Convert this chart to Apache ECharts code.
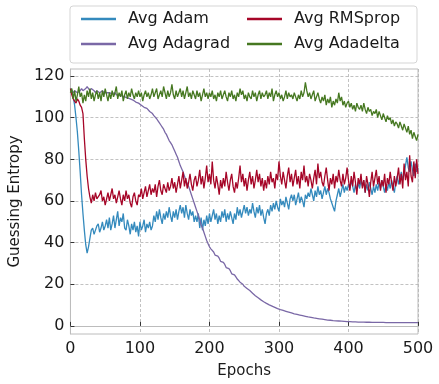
<!DOCTYPE html>
<html>
<head>
<meta charset="utf-8">
<script src="https://cdn.jsdelivr.net/npm/echarts@6/dist/echarts.min.js"></script>
<style>
html,body{margin:0;padding:0;background:#fff;}
#chart{width:439px;height:384px;}
</style>
</head>
<body>
<div id="chart"></div>
<script>
const epochs = [
  0,2,4,6,8,10,12,14,16,18,
  20,22,24,26,28,30,32,34,36,38,
  40,42,44,46,48,50,52,54,56,58,
  60,62,64,66,68,70,72,74,76,78,
  80,82,84,86,88,90,92,94,96,98,
  100,102,104,106,108,110,112,114,116,118,
  120,122,124,126,128,130,132,134,136,138,
  140,142,144,146,148,150,152,154,156,158,
  160,162,164,166,168,170,172,174,176,178,
  180,182,184,186,188,190,192,194,196,198,
  200,202,204,206,208,210,212,214,216,218,
  220,222,224,226,228,230,232,234,236,238,
  240,242,244,246,248,250,252,254,256,258,
  260,262,264,266,268,270,272,274,276,278,
  280,282,284,286,288,290,292,294,296,298,
  300,302,304,306,308,310,312,314,316,318,
  320,322,324,326,328,330,332,334,336,338,
  340,342,344,346,348,350,352,354,356,358,
  360,362,364,366,368,370,372,374,376,378,
  380,382,384,386,388,390,392,394,396,398,
  400,402,404,406,408,410,412,414,416,418,
  420,422,424,426,428,430,432,434,436,438,
  440,442,444,446,448,450,452,454,456,458,
  460,462,464,466,468,470,472,474,476,478,
  480,482,484,486,488,490,492,494,496,498,
  500
];
const adam = [
  114,113,110,106,100,93,84,74,63,54,
  46,39,35,38,42,46,47,44,46,48,
  49,45,47,50,46,48,51,47,52,46,
  49,53,47,51,55,48,52,50,54,47,
  46,51,48,44,49,46,50,45,48,43,
  50,46,48,51,45,49,47,50,46,48,
  53,50,55,51,56,52,49,54,51,55,
  52,57,53,50,55,52,56,51,55,58,
  54,57,52,58,54,51,56,53,55,50,
  53,50,54,47,52,46,51,48,53,49,
  54,50,53,56,51,54,49,53,50,55,
  52,56,50,54,51,55,52,49,54,51,
  57,53,56,52,55,58,54,57,53,56,
  54,59,55,52,57,54,58,53,56,52,
  49,54,56,53,58,55,59,56,60,57,
  55,61,58,60,57,62,59,56,61,63,
  60,63,58,61,64,59,62,60,57,63,
  61,64,62,66,63,60,65,62,67,63,
  65,61,64,67,63,66,64,61,59,57,
  55,60,63,66,62,65,68,64,67,65,
  68,66,70,67,64,68,65,69,66,70,
  67,70,64,68,65,69,66,63,67,64,
  68,65,69,66,70,67,64,68,65,69,
  66,70,67,64,69,72,68,71,74,70,
  73,77,81,76,74,79,75,72,78,74,
  76
];
const adagrad = [
  114,113,112,113,113,112,112,113,114,113,
  113,114,115,114,113,114,114,113,112,113,
  113,112,112,113,112,112,112,112,112,111.5,
  111.5,112,112,111,111,111,111,110.5,110,110,
  110,109.5,109,109,108.5,108.5,108,107.5,107,107,
  106.5,106,105.5,105,104.5,104.5,104,103,102.5,102,
  101,100.5,99.5,98.5,97.5,96.5,95.5,94.5,93,92,
  90.5,89,88,87,85.5,84,82.5,81,79,77,
  75.5,74,72,70,68.5,67,65,63,61,59,
  57,55,53,51,48.5,47,45,43,41,39.5,
  38,37,36.5,35.5,34,34,33.5,32.5,31,31,
  30.5,29.5,28,28,27.5,26.5,25,25,24.5,23.5,
  22.5,22,21,20.5,20,19,18.5,18,17.5,17,
  16.5,15.7,15,14.5,14,13.5,13,12.5,12,11.6,
  11.2,10.8,10.5,10.1,9.8,9.5,9.2,8.9,8.6,8.3,
  8,7.8,7.6,7.4,7.2,7,6.8,6.6,6.4,6.2,
  6,5.8,5.7,5.5,5.4,5.2,5.1,4.9,4.8,4.6,
  4.5,4.3,4.2,4.1,3.9,3.8,3.7,3.6,3.5,3.4,
  3.3,3.2,3.1,3,2.9,2.8,2.8,2.7,2.6,2.55,
  2.5,2.45,2.4,2.35,2.3,2.25,2.2,2.15,2.1,2.05,
  2,2,1.95,1.95,1.9,1.9,1.9,1.85,1.85,1.8,
  1.8,1.8,1.8,1.75,1.75,1.75,1.7,1.7,1.7,1.7,
  1.7,1.7,1.65,1.65,1.65,1.65,1.6,1.6,1.6,1.6,
  1.6,1.6,1.6,1.6,1.6,1.6,1.6,1.6,1.6,1.6,
  1.6,1.6,1.6,1.6,1.6,1.6,1.6,1.6,1.6,1.6,
  1.6
];
const rmsprop = [
  114,111,109,108,107,109,108,106,105,102,
  90,80,72,66,62,59,63,60,64,61,
  61,63,65,60,62,58,61,64,60,63,
  66,61,63,59,62,65,61,58,63,60,
  65,61,63,59,57,62,64,60,58,63,
  62,66,61,64,67,62,65,68,63,66,
  64,68,62,67,70,65,63,68,66,64,
  69,65,67,71,66,69,64,68,72,66,
  70,74,67,71,66,69,73,68,65,70,
  72,67,70,75,68,72,66,71,77,69,
  73,68,79,70,66,72,68,63,70,66,
  71,67,74,69,65,70,73,67,64,69,
  66,71,77,69,73,67,71,65,70,74,
  68,72,66,70,75,69,73,67,71,65,
  70,66,72,68,74,69,71,66,73,70,
  79,72,68,74,70,66,72,76,69,73,
  67,71,75,68,72,66,74,70,77,69,
  72,67,73,70,66,71,75,68,78,71,
  74,69,67,72,76,70,65,71,68,73,
  66,72,69,75,70,67,73,68,71,76,
  70,65,72,67,74,69,63,71,68,73,
  66,70,64,72,68,62,69,74,67,71,
  75,68,72,65,70,67,73,64,71,68,
  74,69,65,72,67,71,76,68,73,66,
  78,70,74,67,82,72,69,79,71,80,
  73
];
const adadelta = [
  112,114,109,113,108,111,115,110,112,107,
  111,108,113,110,114,109,112,108,111,113,
  109,112,108,113,110,114,111,108,112,109,
  113,110,112,115,109,112,110,113,108,111,
  113,109,112,110,114,111,109,112,110,113,
  110,112,108,111,113,110,112,109,111,114,
  110,112,114,109,111,113,110,115,112,109,
  113,110,112,116,111,109,113,110,112,114,
  110,113,109,112,115,110,112,109,113,111,
  109,113,110,112,108,111,114,110,112,109,
  112,110,113,109,111,108,112,110,113,109,
  111,113,110,108,112,110,113,109,111,108,
  112,110,114,111,113,109,111,108,112,110,
  109,113,110,112,108,111,113,109,112,110,
  111,113,109,112,110,114,108,111,113,110,
  112,109,111,108,110,113,109,112,110,111,
  109,112,110,108,111,109,113,110,112,117,
  113,110,112,109,111,113,108,110,112,109,
  107,110,108,111,106,109,107,110,105,108,
  106,109,107,112,108,110,106,108,105,107,
  108,105,107,104,106,103,107,105,104,106,
  103,107,104,102,105,103,104,101,103,102,
  104,100,103,101,99,102,100,98,101,99,
  100,97,99,96,98,97,95,98,96,94,
  97,95,93,96,92,94,90,93,91,89,
  92
];
const seriesNames = ['Avg Adam', 'Avg Adagrad', 'Avg RMSprop', 'Avg Adadelta'];
const seriesValues = [adam, adagrad, rmsprop, adadelta];
const colors = ['#348ABD', '#7A68A6', '#A60628', '#467821'];
const xTicks = [0, 100, 200, 300, 400, 500];
const yTicks = [0, 20, 40, 60, 80, 100, 120];
const xLabel = 'Epochs';
const yLabel = 'Guessing Entropy';

const FONT = 'DejaVu Sans';
const TXT = '#1a1a1a';
const chart = echarts.init(document.getElementById('chart'), null, {renderer: 'canvas'});

const legendPos = [
  {left: 81, top: 11},
  {left: 81, top: 36},
  {left: 247, top: 11},
  {left: 247, top: 36}
];

const option = {
  animation: false,
  backgroundColor: '#ffffff',
  grid: {
    left: 68, top: 69, width: 350, height: 268,
    show: true, borderColor: '#bcbcbc', borderWidth: 1, backgroundColor: 'transparent',
    containLabel: false
  },
  graphic: [{
    type: 'rect', left: 69.5, top: 5.5, z: -1,
    shape: {width: 347, height: 57, r: 3},
    style: {fill: '#ffffff', stroke: '#d5d5d5', lineWidth: 1}
  }],
  legend: seriesNames.map((n, i) => ({
    data: [n], left: legendPos[i].left, top: legendPos[i].top,
    icon: 'rect', itemWidth: 35, itemHeight: 2.5, itemGap: 0, padding: 0,
    selectedMode: false,
    textStyle: {fontFamily: FONT, fontSize: 16, color: TXT, padding: [0, 0, 0, 7]}
  })),
  xAxis: {
    type: 'value', min: 0, max: 500,
    name: xLabel, nameLocation: 'middle', nameGap: 30,
    nameTextStyle: {fontFamily: FONT, fontSize: 15, color: TXT},
    axisLine: {show: true, lineStyle: {color: '#bcbcbc', width: 1}},
    axisTick: {show: true, inside: true, length: 4, lineStyle: {color: '#333', width: 1}, customValues: xTicks},
    axisLabel: {fontFamily: FONT, fontSize: 16, color: TXT, margin: 7, customValues: xTicks},
    splitLine: {show: true, lineStyle: {color: '#b2b2b2', width: 0.8, type: [3, 2]}}
  },
  yAxis: {
    type: 'value', min: -3.9, max: 123.4,
    name: yLabel, nameLocation: 'middle', nameGap: 38, nameRotate: 90,
    nameTextStyle: {fontFamily: FONT, fontSize: 15, color: TXT},
    axisLine: {show: true, lineStyle: {color: '#bcbcbc', width: 1}},
    axisTick: {show: true, inside: true, length: 4, lineStyle: {color: '#333', width: 1}, customValues: yTicks},
    axisLabel: {fontFamily: FONT, fontSize: 16, color: TXT, margin: 6, customValues: yTicks},
    splitLine: {show: true, lineStyle: {color: '#b2b2b2', width: 0.8, type: [3, 2]}}
  },
  series: seriesNames.map((n, i) => ({
    name: n, type: 'line', showSymbol: false, symbol: 'none',
    data: epochs.map((e, k) => [e, seriesValues[i][k]]),
    lineStyle: {color: colors[i], width: 1.3},
    itemStyle: {color: colors[i]},
    z: 2 + i
  }))
};
chart.setOption(option);
</script>
</body>
</html>
